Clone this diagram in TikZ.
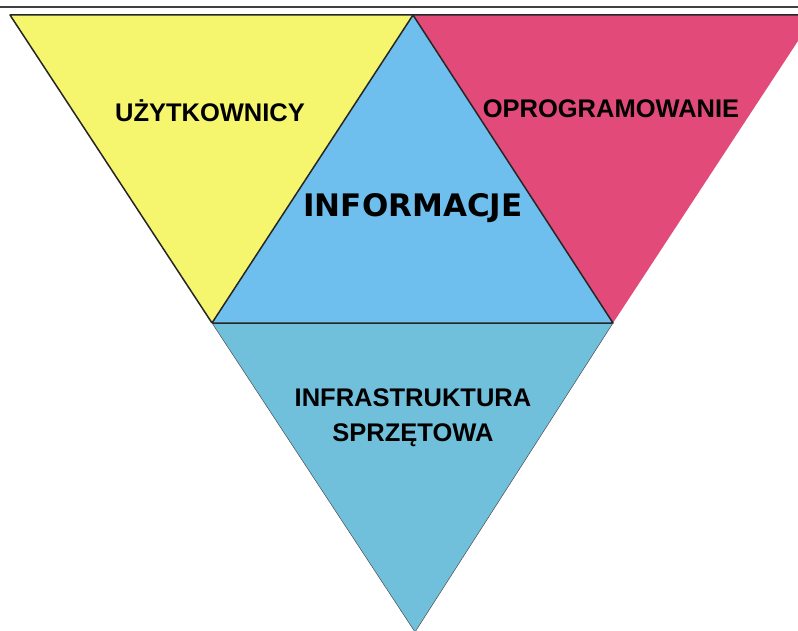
\documentclass[tikz,border=0pt]{standalone}
\usepackage{fontspec}
\setmainfont{Liberation Sans}
\newfontfamily\heavyfont{DejaVu Sans}
\begin{document}
\begin{tikzpicture}[x=1pt,y=-1pt,
  lbl/.style={font=\bfseries\fontsize{25.5}{28}\selectfont, text=black, align=center, inner sep=0pt},
  edge/.style={draw=black!85, line width=1.5pt, line join=round}]
\useasboundingbox (0,0) rectangle (798,631);
\clip (0,0) rectangle (798,631);
\coordinate (TL) at (10,15);
\coordinate (TM) at (413,15);
\coordinate (TR) at (815,15);
\coordinate (ML) at (212,323);
\coordinate (MR) at (613,323);
\coordinate (B) at (415,632);
\fill[fill={rgb,255:red,245;green,245;blue,110}] (TL) -- (TM) -- (ML) -- cycle;
\fill[fill={rgb,255:red,226;green,74;blue,122}] (TM) -- (TR) -- (MR) -- cycle;
\fill[fill={rgb,255:red,110;green,190;blue,238}] (TM) -- (MR) -- (ML) -- cycle;
\fill[fill={rgb,255:red,112;green,192;blue,220}] (ML) -- (MR) -- (B) -- cycle;
\draw[edge] (ML) -- (TL) -- (TR);
\draw[edge] (ML) -- (TM) -- (MR) -- (ML);
\draw[draw=black!70, line width=0.5pt] (MR) -- (B) -- (ML);
\draw[draw=black!75, line width=1.5pt] (0,7) -- (798,7);
\node[lbl] (u) at (210,111) {UŻYTKOWNICY};
\node[lbl] (o) at (611,109) {OPROGRAMOWANIE};
\node[lbl, font=\heavyfont\bfseries\fontsize{31}{34}\selectfont] (i) at (413,208) {INFORMACJE};
\node[lbl, font=\bfseries\fontsize{25.5}{35}\selectfont] (h) at (413,418) {INFRASTRUKTURA\\SPRZĘTOWA};
\end{tikzpicture}
\end{document}
